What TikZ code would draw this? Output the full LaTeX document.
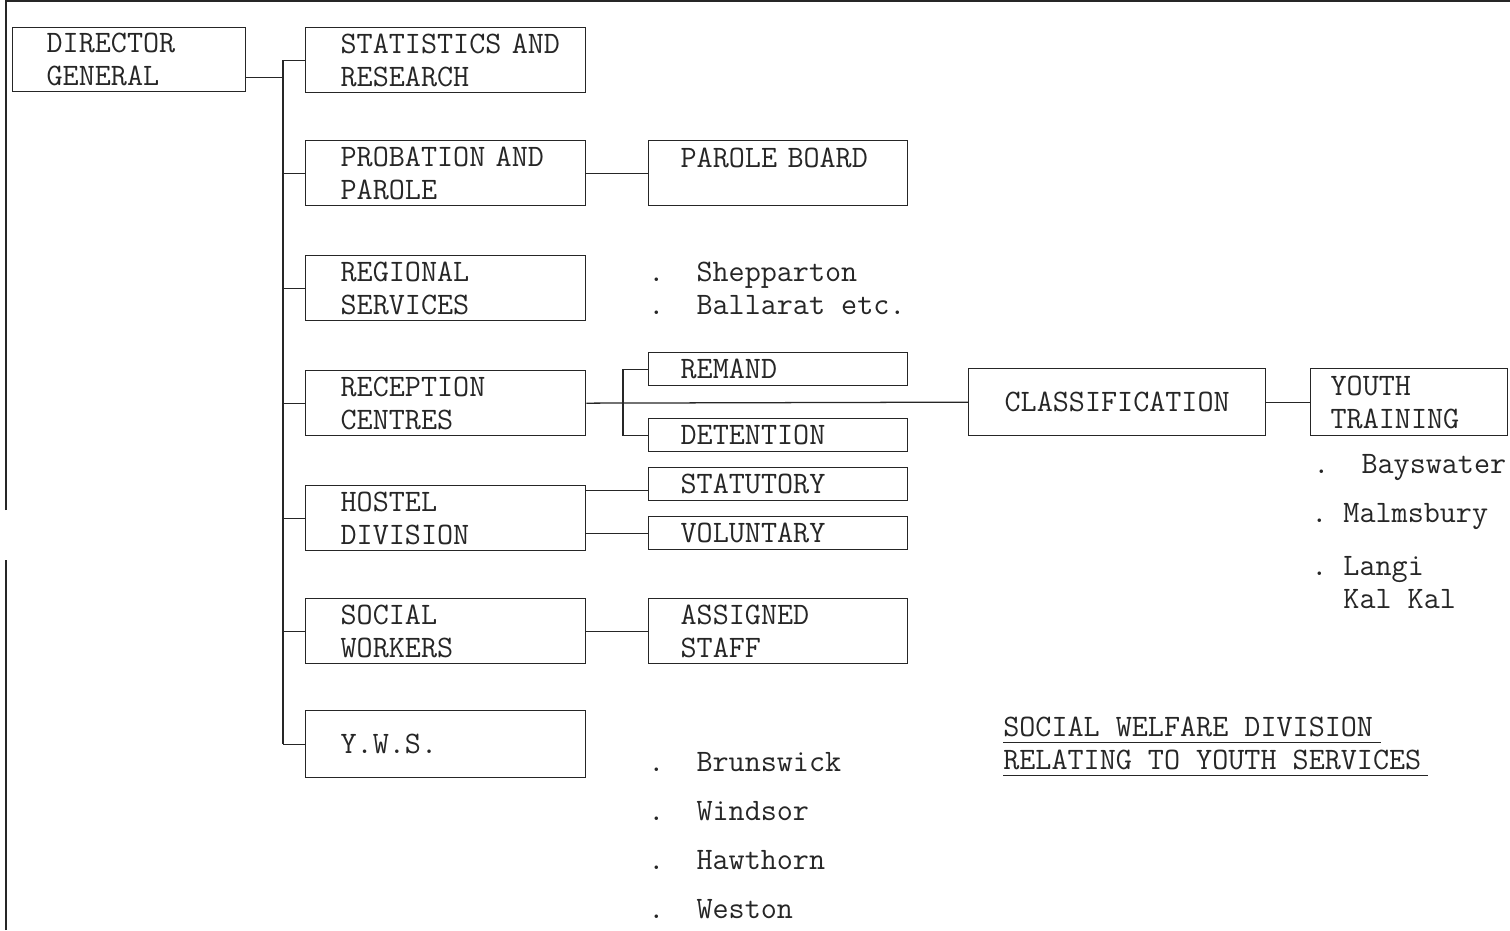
\documentclass[tikz,border=0pt]{standalone}
\usepackage{fontspec}
\usetikzlibrary{positioning, calc}

\tikzset{
  ink/.style={black!85, line width=0.9pt},
  typed/.style={font=\ttfamily\fontsize{22.2}{23.5}\selectfont},
  unitbox/.style={ink, typed, draw, anchor=north west, align=left, minimum height=1.625cm, inner ysep=0pt},
  branchbox/.style={unitbox, minimum width=7cm, text width=5.25cm, inner xsep=0.875cm},
  sidebox/.style={unitbox, minimum width=6.475cm, text width=4.875cm, inner xsep=0.8cm},
  listtext/.style={black!85, typed, anchor=west, inner sep=0pt, align=left},
}

\begin{document}
\begin{tikzpicture}[x=0.025cm, y=-0.025cm]
\useasboundingbox (0,0) rectangle (1510,930);

% page frame
\draw[ink] (6,930) -- (6,560);
\draw[ink] (6,510) -- (6,1) -- (1510,1);

% head and branches
\node[unitbox, minimum width=5.825cm, text width=4.125cm, inner xsep=0.85cm, minimum height=1.6cm] (dg) at (12,27) {DIRECTOR\\GENERAL};
\node[branchbox] (stat) at (305,27) {\mbox{STATISTICS AND}\\RESEARCH};
\node[branchbox] (prob) at (305,140) {\mbox{PROBATION AND}\\PAROLE};
\node[branchbox] (reg) at (305,255) {REGIONAL\\SERVICES};
\node[branchbox] (recep) at (305,370) {RECEPTION\\CENTRES};
\node[branchbox] (hostel) at (305,485) {HOSTEL\\DIVISION};
\node[branchbox] (social) at (305,598) {SOCIAL\\WORKERS};
\node[branchbox, minimum height=1.675cm] (yws) at (305,710) {Y.W.S.};

% second level
\node[sidebox, text depth=0.78cm] (board) at (648,140) {\mbox{PAROLE BOARD}};
\node[sidebox, minimum height=0.825cm] (remand) at (648,352) {REMAND};
\node[sidebox, minimum height=0.825cm] (detention) at (648,418) {DETENTION};
\node[sidebox, minimum height=0.825cm] (statutory) at (648,467) {STATUTORY};
\node[sidebox, minimum height=0.825cm] (voluntary) at (648,516) {VOLUNTARY};
\node[sidebox] (assigned) at (648,598) {ASSIGNED\\STAFF};
\node[unitbox, minimum width=7.425cm, align=center, minimum height=1.675cm] (class) at (968,368) {CLASSIFICATION};
\node[unitbox, minimum width=4.925cm, text width=3.925cm, inner xsep=0.5cm, minimum height=1.675cm] (youth) at (1310,368) {YOUTH\\TRAINING};

% places
\node[listtext] (regional) at (648,288.5) {.~~Shepparton\\.~~Ballarat etc.};
\foreach \place [count=\i] in {Brunswick,Windsor,Hawthorn,Weston}
  \node[listtext] (centre\i) at (648,713+49*\i) {.~~\place};
\node[listtext] (bayswater) at (1313,468) {.~~Bayswater};
\node[listtext] (malmsbury) at (1311,517) {.~Malmsbury};
\node[listtext] (langi) at (1311,582.5) {.~Langi\\~~Kal~Kal};

% title
\node[listtext, anchor=base west] (title1) at (1003,736) {SOCIAL WELFARE DIVISION};
\node[listtext, anchor=base west] (title2) at (1003,769) {RELATING TO YOUTH SERVICES};
\draw[ink] ([yshift=-0.17cm]title1.base west) -- ([yshift=-0.17cm, xshift=0.2cm]title1.base east);
\draw[ink] ([yshift=-0.17cm]title2.base west) -- ([yshift=-0.17cm, xshift=0.15cm]title2.base east);

% connectors
\coordinate (bus) at (283,0);
\coordinate (fork) at (623,0);
\draw[ink] ([yshift=-0.45cm]dg.east) -- ([yshift=-0.45cm]dg.east -| bus);
\draw[ink] (stat.west -| bus) -- (yws.west -| bus);
\foreach \n in {stat,prob,reg,recep,hostel,social,yws}
  \draw[ink] (\n.west) -- (\n.west -| bus);
\draw[ink] (prob.east) -- (board.west);
\draw[ink] (remand.west) -- (remand.west -| fork) -- (detention.west -| fork) -- (detention.west);
\draw[ink] (recep.east) -- (class.west);
\draw[ink] (class.east) -- (youth.west);
\draw[ink] ([yshift=-0.15cm]statutory.west -| hostel.east) -- ([yshift=-0.15cm]statutory.west);
\draw[ink] (voluntary.west -| hostel.east) -- (voluntary.west);
\draw[ink] (social.east) -- (assigned.west);
\end{tikzpicture}
\end{document}
